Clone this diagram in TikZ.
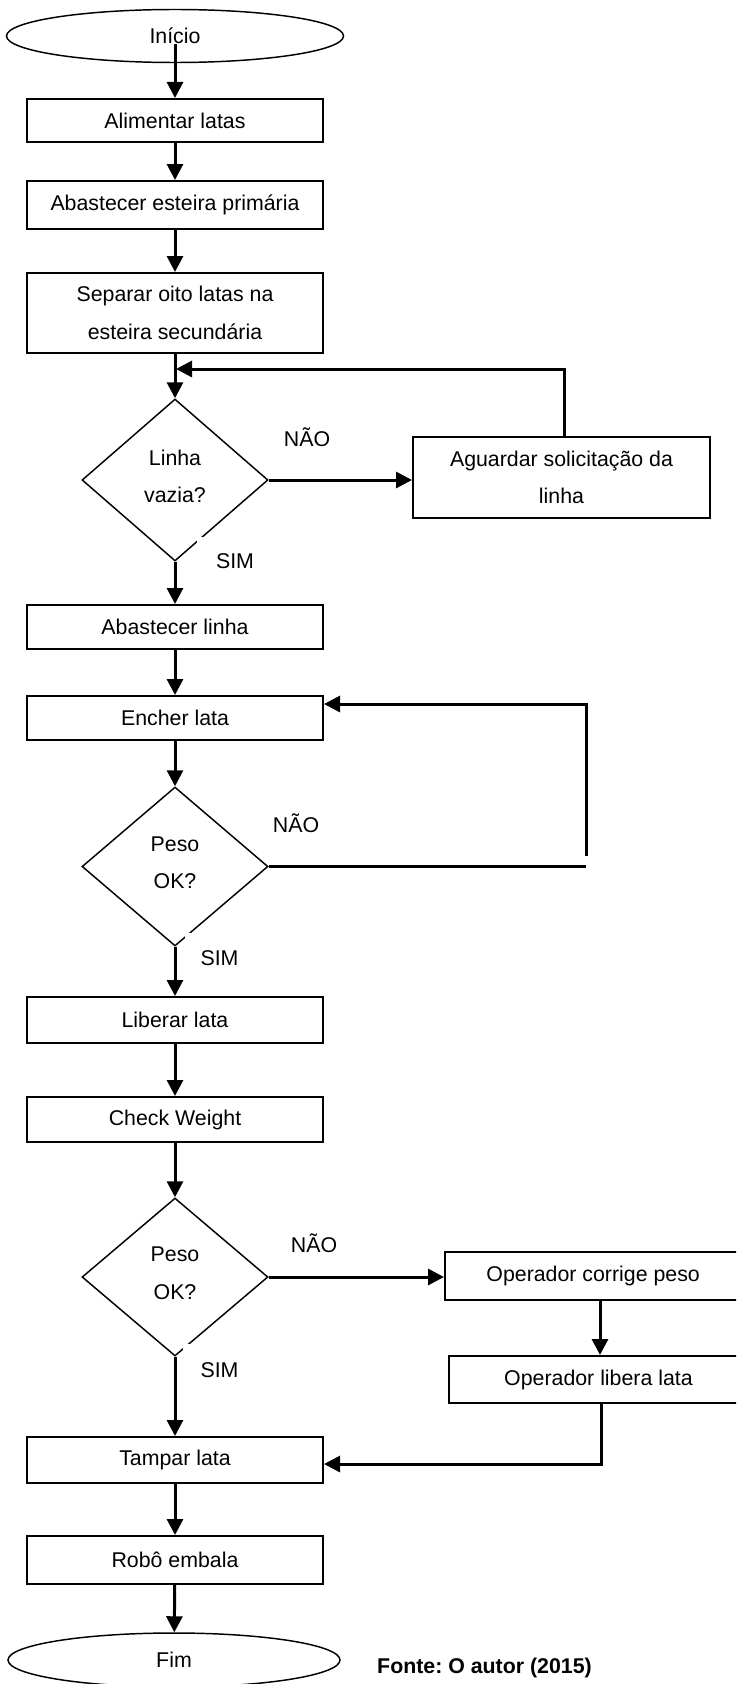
\documentclass[tikz,border=0pt]{standalone}
\usepackage{fontspec}
\setmainfont{Liberation Sans}
\usetikzlibrary{shapes.geometric,arrows.meta}
\frenchspacing
\begin{document}
\begin{tikzpicture}[x=0.75pt,y=-0.75pt,
  every node/.style={font=\fontsize{16}{28}\selectfont},
  proc/.style={draw,line width=1.5pt,minimum width=222pt,inner sep=0pt,align=center},
  decis/.style={draw,diamond,line width=1.1pt,minimum width=139.5pt,inner sep=0pt,align=center},
  term/.style={draw,ellipse,line width=1.1pt,inner sep=0pt},
  flow/.style={line width=2.25pt,-{Triangle[length=12pt,width=12pt]}},
  wire/.style={line width=2.25pt},
  answer/.style={fill=white,inner sep=0pt},
]
\useasboundingbox (0,0) rectangle (736,1684);
\clip (0,0) rectangle (736,1684);

% main column
\node[term,minimum width=252.75pt,minimum height=39.75pt] (ini) at (175,36) {Início};
\node[proc,minimum height=32.25pt] (alim) at (175,120.5) {Alimentar latas};
\node[proc,minimum height=36pt] (abes) at (175,205) {Abastecer esteira primária};
\node[proc,minimum height=60pt] (sep) at (175,313) {Separar oito latas na\\esteira secundária};
\node[decis,minimum height=121.5pt] (d1) at (175,480) {Linha\\vazia?\rule[-6pt]{0pt}{6pt}};
\node[proc,minimum width=222.75pt,minimum height=60.75pt] (agu) at (561.5,477.5) {Aguardar solicitação da\\linha};
\node[proc,minimum height=33pt] (abl) at (175,627) {Abastecer linha};
\node[proc,minimum height=33pt] (enc) at (175,718) {Encher lata};
\node[decis,minimum height=119.25pt] (d2) at (175,866.5) {Peso\\OK?\rule[-6pt]{0pt}{6pt}};
\node[proc,minimum height=34.5pt] (lib) at (175,1020) {Liberar lata};
\node[proc,minimum height=33.75pt] (chk) at (175,1119.5) {Check Weight};
\node[decis,minimum height=118.5pt] (d3) at (175,1277) {Peso\\OK?\rule[-6pt]{0pt}{6pt}};
\node[proc,minimum width=236.25pt,minimum height=36pt] (cor) at (602.5,1276) {\hspace*{-14pt}Operador corrige peso};
\node[proc,minimum width=233.25pt,minimum height=35.25pt] (opl) at (604.5,1379.5) {\hspace*{-9pt}Operador libera lata};
\node[proc,minimum height=34.5pt] (tam) at (175,1460) {Tampar lata};
\node[proc,minimum height=36pt] (rob) at (175,1560) {Robô embala};
\node[term,minimum width=249pt,minimum height=40.5pt] (fim) at (174,1660) {Fim};

% branch labels
\node (n1) at (307,437) {NÃO};
\node[answer,minimum width=57pt,minimum height=36pt] (s1) at (235,561) {SIM};
\node (n2) at (296,823) {NÃO};
\node[answer,minimum width=51.75pt,minimum height=37.5pt] (s2) at (219.5,958) {SIM};
\node (n3) at (314,1243) {NÃO};
\node[answer,minimum width=54.75pt,minimum height=39pt] (s3) at (219.5,1370) {SIM};

\node[font=\fontsize{16}{20}\selectfont\bfseries] (src) at (484.5,1668) {Fonte: O autor (2015)};

% junction points of the return paths
\coordinate (j1) at (176,369);
\coordinate (r2a) at (586,866.5);
\coordinate (r2b) at (586,856);
\coordinate (r2c) at (586,704);
\coordinate (ox) at (600,1300);
\coordinate (r3) at (601,1464);

% connectors
\draw[flow] ([yshift=-6pt]ini.center) -- (alim);
\draw[flow] (alim) -- (abes);
\draw[flow] (abes) -- (sep);
\draw[flow] (sep) -- (d1);
\draw[flow] (d1.east) -- (d1.east -| agu.west);
\draw[flow] (agu.north -| 564,0) |- (j1);
\draw[flow] (d1) -- (abl);
\draw[flow] (abl) -- (enc);
\draw[flow] (enc) -- (d2);
\draw[wire] (d2.east) -- (r2a);
\draw[flow] (r2b) -- (r2c) -- (enc.east |- r2c);
\draw[flow] (d2) -- (lib);
\draw[flow] (lib) -- (chk);
\draw[flow] (chk) -- (d3);
\draw[flow] (d3.east) -- (d3.east -| cor.west);
\draw[flow] (cor.south -| ox) -- (opl.north -| ox);
\draw[flow] (opl.south -| r3) -- (r3) -- (tam.east |- r3);
\draw[flow] (d3) -- (tam);
\draw[flow] (tam) -- (rob);
\draw[flow] (rob) -- (fim);
\end{tikzpicture}
\end{document}
